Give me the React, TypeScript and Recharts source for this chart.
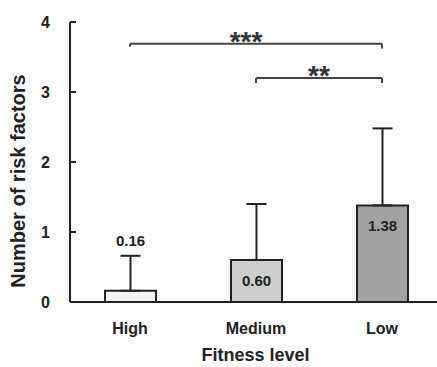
import React from 'react';
import { BarChart, Bar, XAxis, YAxis, ErrorBar, LabelList, ReferenceLine, Cell } from 'recharts';

const categories = ['High', 'Medium', 'Low'];
const means = [0.16, 0.6, 1.38];
const sdUpper = [0.5, 0.8, 1.1];
const fills = ['#f3f3f3', '#cecece', '#a2a2a2'];
const yTicks = [0, 1, 2, 3, 4];

const data = categories.map((level, i) => ({ level, mean: means[i], err: [0, sdUpper[i]] }));

const font = '"Liberation Sans", Arial, sans-serif';

function ValueLabel(props: any) {
  const { x, y, width, height, value, index } = props;
  const cx = x + width / 2;
  let ty = y + 26;
  if (height < 30) {
    // small bar: put the number above the error bar
    const pxPerUnit = height / value;
    ty = y - pxPerUnit * sdUpper[index] - 10;
  }
  return (
    <text x={cx} y={ty} textAnchor="middle" fontSize={15} fontWeight="bold" fill="#222" fontFamily={font}>
      {Number(value).toFixed(2)}
    </text>
  );
}

export default function App() {
  return (
    <div style={{ position: 'fixed', left: 0, top: 0, width: 437, height: 367, overflow: 'hidden', background: '#fdfdfd', fontFamily: font }}>
      <BarChart width={445} height={367} data={data} margin={{ top: 22, right: 0, bottom: 0, left: 0 }}>
        <XAxis
          dataKey="level"
          padding={{ left: -3, right: 0 }}
          tickLine={false}
          tickSize={0}
          tickMargin={21}
          height={65}
          axisLine={{ stroke: '#222', strokeWidth: 2 }}
          tick={{ fontSize: 16, fontWeight: 'bold', fill: '#222' }}
          label={{ value: 'Fitness level', position: 'insideBottom', offset: 6, dx: -2, fontSize: 18, fontWeight: 'bold', fill: '#222' }}
        />
        <YAxis
          width={70}
          domain={[0, 4]}
          ticks={yTicks}
          tickSize={-6}
          tickMargin={26}
          axisLine={{ stroke: '#222', strokeWidth: 2 }}
          tickLine={{ stroke: '#222', strokeWidth: 2 }}
          tick={{ fontSize: 16, fontWeight: 'bold', fill: '#222' }}
          label={{ value: 'Number of risk factors', angle: -90, position: 'center', dx: -17, dy: 19, fontSize: 20, fontWeight: 'bold', fill: '#222' }}
        />
        <Bar dataKey="mean" barSize={51} stroke="#222" strokeWidth={2} isAnimationActive={false}>
          {data.map((d, i) => (
            <Cell key={d.level} fill={fills[i]} />
          ))}
          <ErrorBar dataKey="err" width={10} stroke="#222" strokeWidth={2} direction="y" />
          <LabelList dataKey="mean" content={ValueLabel} />
        </Bar>
        <ReferenceLine
          segment={[{ x: 'High', y: 3.69 }, { x: 'Low', y: 3.69 }]}
          stroke="#444"
          strokeWidth={2}
          label={{ value: '***', position: 'center', dx: -10, dy: -3, fontSize: 28, fontWeight: 'bold', fill: '#333' }}
        />
        <ReferenceLine segment={[{ x: 'Low', y: 3.69 }, { x: 'Low', y: 3.62 }]} stroke="#444" strokeWidth={2} />
        <ReferenceLine segment={[{ x: 'High', y: 3.69 }, { x: 'High', y: 3.65 }]} stroke="#444" strokeWidth={2} />
        <ReferenceLine
          segment={[{ x: 'Medium', y: 3.2 }, { x: 'Low', y: 3.2 }]}
          stroke="#444"
          strokeWidth={2}
          label={{ value: '**', position: 'center', dy: -3, fontSize: 28, fontWeight: 'bold', fill: '#333' }}
        />
        <ReferenceLine segment={[{ x: 'Medium', y: 3.2 }, { x: 'Medium', y: 3.13 }]} stroke="#444" strokeWidth={2} />
        <ReferenceLine segment={[{ x: 'Low', y: 3.2 }, { x: 'Low', y: 3.13 }]} stroke="#444" strokeWidth={2} />
      </BarChart>
    </div>
  );
}
